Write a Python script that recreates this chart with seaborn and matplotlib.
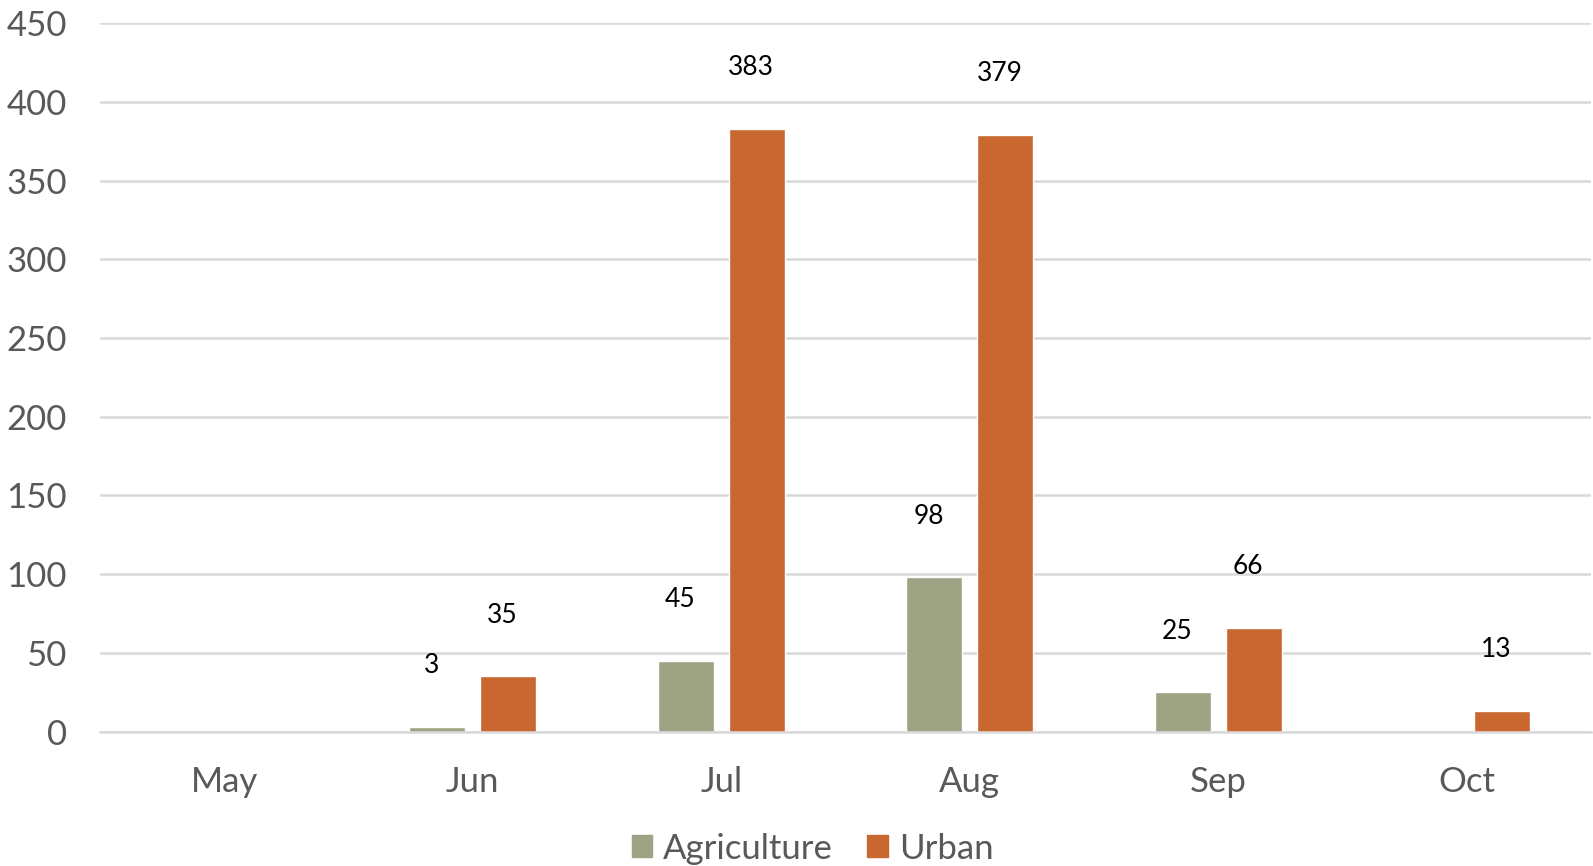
import numpy as np
import pandas as pd
import matplotlib
matplotlib.use("Agg")
import matplotlib.pyplot as plt
import seaborn as sns

months = ["May", "Jun", "Jul", "Aug", "Sep", "Oct"]
agriculture = [np.nan, 3, 45, 98, 25, np.nan]
urban = [np.nan, 35, 383, 379, 66, 13]
series_names = ["Agriculture", "Urban"]
palette = {"Agriculture": "#9DA383", "Urban": "#C8672F"}
y_ticks = [0, 50, 100, 150, 200, 250, 300, 350, 400, 450]

df = pd.DataFrame({
    "month": months * 2,
    "series": [series_names[0]] * len(months) + [series_names[1]] * len(months),
    "value": agriculture + urban,
}).dropna()

sns.set_theme(style="white")
plt.rcParams["font.family"] = ["Lato", "DejaVu Sans"]

fig = plt.figure(figsize=(15.93, 8.66), dpi=100)
ax = fig.add_axes([0.0628, 0.1553, 0.9359, 0.8177])

sns.barplot(data=df, x="month", y="value", hue="series", order=months,
            hue_order=series_names, palette=palette, width=0.57, gap=0.21,
            saturation=1, ax=ax, legend=True)

ax.set_ylim(0, 450)
ax.set_xlim(-0.5, len(months) - 0.5)
ax.set_yticks(y_ticks)
ax.set_yticklabels([str(t) for t in y_ticks])
ax.set_xlabel("")
ax.set_ylabel("")
ax.grid(axis="y", color="#D9D9D9", linewidth=1.8)
ax.set_axisbelow(True)
for side in ["top", "right", "left"]:
    ax.spines[side].set_visible(False)
ax.spines["bottom"].set_color("#D9D9D9")
ax.spines["bottom"].set_linewidth(1.8)
ax.tick_params(axis="y", labelsize=25, colors="#595959", length=0, pad=24)
ax.tick_params(axis="x", labelsize=25, colors="#595959", length=0, pad=25)

# value labels floating above each bar
for container in ax.containers:
    for bar in container:
        h = bar.get_height()
        if np.isnan(h):
            continue
        ax.annotate(f"{int(round(h))}",
                    xy=(bar.get_x() + bar.get_width() / 2, h),
                    xytext=(-4, 44), textcoords="offset points",
                    ha="center", va="center", fontsize=19, color="black")

ax.get_legend().remove()
handles = [plt.Rectangle((0, 0), 1, 1, color=palette[s]) for s in series_names]
fig.legend(handles, series_names, loc="center", bbox_to_anchor=(0.51, 0.02),
           ncol=2, frameon=False, fontsize=25, labelcolor="#595959",
           handlelength=0.6, handleheight=0.6, handletextpad=0.3,
           columnspacing=1.0)

fig.savefig("out.png", dpi=100)
